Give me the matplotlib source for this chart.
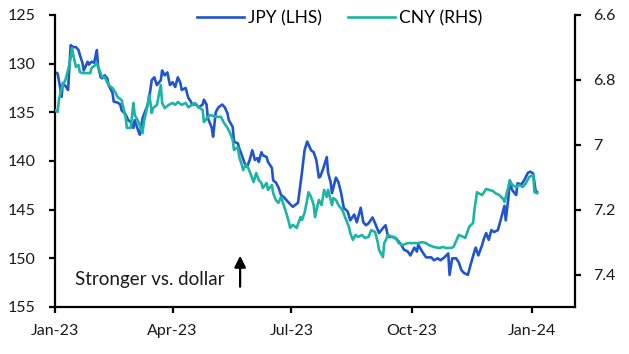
import numpy as np
import matplotlib
matplotlib.use("Agg")
import matplotlib.pyplot as plt

plt.rcParams['font.family'] = ['Lato', 'DejaVu Sans']

# Day offsets from 2023-01-01 and values
jpy_day = [0, 2, 4, 5, 6, 8, 9, 10, 12, 14, 16, 18, 19, 21, 22, 25, 26, 28, 30, 32, 33, 35, 36, 38, 40, 41, 44, 45, 48, 50,
           51, 54, 56, 58, 60, 61, 64, 65, 67, 71, 73, 74, 76, 78, 81, 82, 84, 86, 88, 90, 92, 94, 96, 97, 100, 102, 104, 105, 108, 110,
           113, 114, 116, 117, 120, 121, 123, 125, 128, 130, 132, 133, 136, 137, 140, 141, 143, 145, 147, 149, 151, 153, 155, 156, 158, 159, 162, 163, 166, 167,
           169, 171, 173, 175, 177, 179, 182, 184, 186, 188, 189, 191, 193, 196, 198, 200, 202, 203, 205, 208, 209, 211, 212, 215, 217, 219, 221, 224, 226, 229,
           231, 234, 236, 238, 240, 243, 245, 248, 251, 253, 255, 259, 262, 265, 267, 270, 272, 275, 277, 278, 281, 284, 288, 290, 293, 295, 298, 301, 302, 304,
           307, 309, 311, 313, 316, 318, 321, 322, 324, 327, 328, 330, 332, 334, 336, 339, 341, 344, 345, 347, 348, 350, 353, 354, 357, 359, 362, 364, 366, 368, 369]
jpy = [130.9, 131.0, 132.5, 133.4, 132.0, 132.3, 132.5, 132.7, 128.1, 128.3, 128.3, 128.6, 129.1, 129.9, 130.7, 129.8, 130.1, 129.8, 129.9, 128.6,
       130.3, 131.4, 131.5, 131.2, 131.5, 132.2, 133.0, 133.9, 134.0, 134.2,
       134.8, 135.2, 135.8, 136.0, 136.6, 135.8, 137.0, 137.3, 135.6, 134.2, 132.7, 131.7, 131.4, 132.2, 131.7, 130.7, 131.2, 130.9, 132.2, 131.9,
       132.4, 131.4, 132.0, 132.7, 132.5, 133.5, 133.9, 134.2, 134.2, 134.5,
       134.2, 133.7, 134.2, 135.6, 136.6, 137.5, 135.0, 134.5, 134.2, 134.5, 135.1, 135.8, 136.5, 138.0, 138.2, 138.7, 139.4, 140.2, 140.6, 139.9,
       138.9, 139.9, 139.7, 140.1, 139.1, 139.4, 139.6, 140.1, 140.7, 142.0,
       142.2, 142.7, 143.5, 143.7, 144.0, 144.3, 144.7, 144.5, 144.3, 142.2, 141.2, 138.9, 138.0, 138.9, 139.1, 139.9, 141.7, 141.6, 140.9, 139.6,
       141.2, 142.2, 143.3, 141.7, 142.2, 143.3, 144.8, 145.2, 146.1, 145.5,
       146.3, 144.8, 146.3, 146.6, 146.4, 145.8, 146.4, 147.4, 146.9, 146.6, 147.8, 147.8, 148.1, 148.6, 149.1, 149.3, 149.7, 148.9, 149.3, 148.6,
       149.3, 149.9, 149.9, 150.2, 150.0, 150.2, 149.9, 149.5, 151.7, 150.0,
       150.0, 150.4, 151.2, 151.5, 151.7, 150.7, 149.3, 148.9, 149.7, 148.6, 148.1, 147.4, 148.1, 147.1, 147.3, 147.1, 146.1, 144.6, 146.1, 143.8,
       142.2, 143.0, 143.5, 142.3, 142.4, 142.0, 141.2, 141.1, 141.3, 143.2, 143.2]

cny_day = [0, 2, 3, 5, 8, 10, 12, 13, 14, 16, 18, 19, 21, 25, 27, 28, 31, 32, 34, 36, 38, 41, 44, 46, 48, 51, 54, 55, 58, 60,
           61, 64, 67, 68, 71, 72, 73, 74, 75, 78, 81, 82, 84, 87, 90, 92, 94, 97, 100, 102, 105, 107, 110, 113, 114, 117, 119, 123, 127, 129,
           132, 134, 136, 137, 140, 141, 143, 144, 146, 148, 150, 152, 154, 156, 158, 159, 162, 163, 166, 167, 169, 171, 173, 175, 177, 179, 180, 182, 185, 186,
           188, 189, 191, 193, 194, 196, 198, 199, 201, 202, 204, 206, 208, 209, 212, 213, 215, 217, 220, 222, 225, 226, 228, 230, 232, 235, 237, 240, 242, 245,
           247, 248, 251, 252, 255, 258, 261, 263, 266, 270, 274, 278, 281, 284, 286, 290, 294, 297, 299, 303, 305, 307, 309, 311, 314, 317, 320, 321, 323, 324,
           327, 330, 332, 335, 337, 340, 343, 344, 347, 348, 350, 353, 355, 358, 360, 363, 366, 367, 369]
cny = [6.893, 6.899, 6.862, 6.825, 6.800, 6.770, 6.733, 6.702, 6.723, 6.760, 6.754, 6.776, 6.779, 6.779, 6.779, 6.763, 6.754, 6.748, 6.770, 6.791,
       6.791, 6.816, 6.825, 6.837, 6.853, 6.862, 6.914, 6.948, 6.948, 6.871,
       6.908, 6.930, 6.964, 6.930, 6.877, 6.847, 6.868, 6.902, 6.887, 6.877, 6.816, 6.871, 6.887, 6.877, 6.871, 6.877, 6.868, 6.877, 6.871, 6.884,
       6.877, 6.871, 6.884, 6.893, 6.930, 6.914, 6.908, 6.914, 6.914, 6.930,
       6.948, 6.964, 6.985, 7.016, 7.007, 7.038, 7.062, 7.078, 7.062, 7.072, 7.093, 7.115, 7.087, 7.109, 7.118, 7.133, 7.118, 7.139, 7.124, 7.149,
       7.170, 7.179, 7.161, 7.186, 7.210, 7.238, 7.256, 7.247, 7.256, 7.244,
       7.223, 7.232, 7.210, 7.170, 7.146, 7.161, 7.186, 7.223, 7.186, 7.170, 7.186, 7.139, 7.161, 7.139, 7.186, 7.164, 7.170, 7.186, 7.201, 7.223,
       7.253, 7.272, 7.293, 7.278, 7.284, 7.278, 7.287, 7.284, 7.263, 7.269,
       7.300, 7.324, 7.346, 7.303, 7.278, 7.284, 7.287, 7.303, 7.309, 7.303, 7.303, 7.303, 7.300, 7.303, 7.309, 7.315, 7.318, 7.315, 7.318, 7.318,
       7.315, 7.297, 7.278, 7.281, 7.287, 7.253, 7.241, 7.201, 7.146, 7.149,
       7.155, 7.136, 7.139, 7.142, 7.149, 7.155, 7.167, 7.176, 7.130, 7.109, 7.124, 7.130, 7.124, 7.130, 7.121, 7.099, 7.093, 7.146, 7.149]

left_ticks = [125, 130, 135, 140, 145, 150, 155]
right_ticks = [6.6, 6.8, 7.0, 7.2, 7.4]
right_labels = ["6.6", "6.8", "7", "7.2", "7.4"]
x_tick_dates = ["2023-01-01", "2023-04-01", "2023-07-01", "2023-10-01", "2024-01-01"]
x_tick_labels = ["Jan-23", "Apr-23", "Jul-23", "Oct-23", "Jan-24"]

base = np.datetime64("2023-01-01")
jpy_x = base + np.array(jpy_day).astype("timedelta64[D]")
cny_x = base + np.array(cny_day).astype("timedelta64[D]")

BLUE = "#2154D0"
TEAL = "#1BB5A3"
TICK_FS = 11.5
LEG_FS = 12.5
ANN_FS = 13.5

fig = plt.figure(figsize=(6.29, 3.54), dpi=100)
ax = fig.add_axes([55/629, 1-307/354, 520/629, 292/354])
ax2 = ax.twinx()

l1, = ax.plot(jpy_x, jpy, color=BLUE, lw=1.9, label="JPY (LHS)")
l2, = ax2.plot(cny_x, cny, color=TEAL, lw=1.9, label="CNY (RHS)")

ax.set_ylim(155, 125)
ax.set_yticks(left_ticks)
ax.set_yticklabels([str(t) for t in left_ticks])
ax2.set_ylim(7.5, 6.6)
ax2.set_yticks(right_ticks)
ax2.set_yticklabels(right_labels)

ax.set_xlim(np.datetime64("2023-01-01"), np.datetime64("2024-02-03"))
ax.set_xticks([np.datetime64(d) for d in x_tick_dates])
ax.set_xticklabels(x_tick_labels)

for a in (ax, ax2):
    a.spines['top'].set_visible(False)
    for s in ('left', 'right', 'bottom'):
        a.spines[s].set_linewidth(1.6)
        a.spines[s].set_color('black')
    a.tick_params(axis='both', which='major', length=4, width=1.6, labelsize=TICK_FS, color='black', labelcolor='#1a1a1a')
ax.tick_params(axis='y', pad=10)
ax2.tick_params(axis='y', pad=9)
ax.tick_params(axis='x', pad=8)
ax.spines['right'].set_visible(False)
ax2.spines['left'].set_visible(False)
ax2.spines['bottom'].set_visible(False)

leg = ax2.legend([l1, l2], ["JPY (LHS)", "CNY (RHS)"], loc='center', bbox_to_anchor=(0.547, 0.99),
                 ncol=2, frameon=False, fontsize=LEG_FS, handlelength=2.7, handletextpad=0.25,
                 columnspacing=1.5, borderaxespad=0)

ax2.text(0.038, 0.095, "Stronger vs. dollar", transform=ax.transAxes, fontsize=ANN_FS,
         ha='left', va='center', color='#1a1a1a')
ax2.annotate("", xy=(0.356, 0.185), xytext=(0.356, 0.06), xycoords=ax.transAxes, textcoords=ax.transAxes,
             arrowprops=dict(arrowstyle='-|>', color='black', lw=1.6, mutation_scale=17))

fig.savefig("out.png", dpi=100)
